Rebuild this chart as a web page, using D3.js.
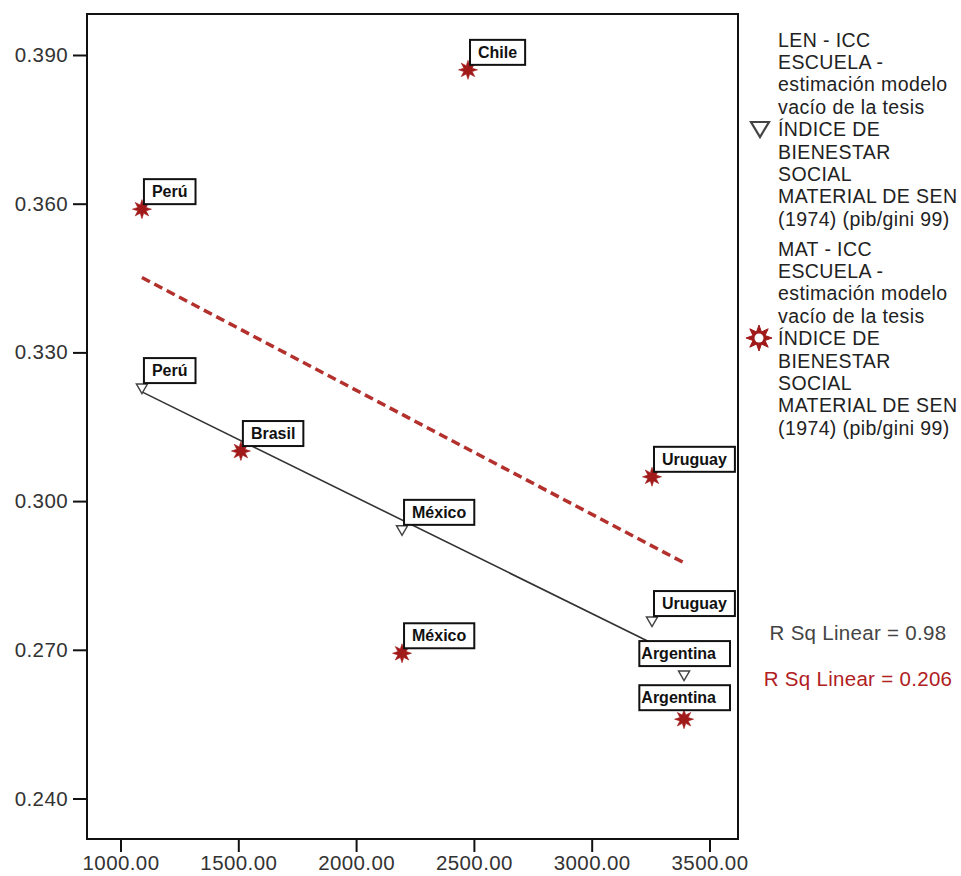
<!DOCTYPE html>
<html>
<head>
<meta charset="utf-8">
<script src="https://cdn.jsdelivr.net/npm/d3@7"></script>
<style>
  html, body { margin: 0; padding: 0; background: #fff; }
  svg { display: block; }
</style>
</head>
<body>
<svg id="chart" width="961" height="876"></svg>
<script>
// Countries and their PIB/Gini (1999) welfare index
const countries = ["Perú", "Brasil", "Chile", "México", "Uruguay", "Argentina"];
const pibGini   = [1091, 1511, 2475, 2195, 3256, 3392];
// School-level ICC estimates (empty model); null = not available
const lenIcc = [0.3228, null, null, 0.2942, 0.2758, 0.2649];
const matIcc = [0.3589, 0.3101, 0.3870, 0.2693, 0.3049, 0.2560];

const xTicks = [1000, 1500, 2000, 2500, 3000, 3500];
const yTicks = [0.240, 0.270, 0.300, 0.330, 0.360, 0.390];

const legendLen = ["LEN - ICC", "ESCUELA -", "estimación modelo", "vacío de la tesis",
  "ÍNDICE DE", "BIENESTAR", "SOCIAL", "MATERIAL DE SEN", "(1974) (pib/gini 99)"];
const legendMat = ["MAT - ICC", "ESCUELA -", "estimación modelo", "vacío de la tesis",
  "ÍNDICE DE", "BIENESTAR", "SOCIAL", "MATERIAL DE SEN", "(1974) (pib/gini 99)"];
const rSqLabels = ["R Sq Linear = 0.98", "R Sq Linear = 0.206"];

const RED = "#a11a1a";
const RED_LINE = "#b3302c";
const RED_TEXT = "#b0201e";
const FONT = "'Liberation Sans', Arial, sans-serif";

const svg = d3.select("#chart");
const plot = { left: 87, top: 14, right: 738, bottom: 839 };

const x = d3.scaleLinear().domain([857.8, 3621]).range([plot.left, plot.right]);
const y = d3.scaleLinear().domain([0.23183, 0.39827]).range([plot.bottom, plot.top]);

// Axes
const yAxis = d3.axisLeft(y).tickValues(yTicks).tickFormat(d3.format(".3f"))
  .tickSize(14).tickSizeOuter(0).tickPadding(5);
const xAxis = d3.axisBottom(x).tickValues(xTicks).tickFormat(d3.format(".2f"))
  .tickSize(13).tickSizeOuter(0).tickPadding(3);

const gy = svg.append("g").attr("transform", `translate(${plot.left},0)`).call(yAxis);
const gx = svg.append("g").attr("transform", `translate(0,${plot.bottom})`).call(xAxis);
[gx, gy].forEach(g => {
  g.select(".domain").remove();
  g.selectAll(".tick line").attr("stroke", "#111").attr("stroke-width", 2);
  g.selectAll(".tick text").attr("fill", "#333")
    .style("font-family", FONT).style("font-size", "20.5px").style("letter-spacing", "0.4px");
});

// Plot frame
svg.append("rect")
  .attr("x", plot.left).attr("y", plot.top)
  .attr("width", plot.right - plot.left).attr("height", plot.bottom - plot.top)
  .attr("fill", "none").attr("stroke", "#111").attr("stroke-width", 2);

// Least-squares fit over the available pairs
function fit(xs, ys) {
  const pts = xs.map((v, i) => [v, ys[i]]).filter(p => p[1] != null);
  const mx = d3.mean(pts, p => p[0]), my = d3.mean(pts, p => p[1]);
  const sxy = d3.sum(pts, p => (p[0] - mx) * (p[1] - my));
  const sxx = d3.sum(pts, p => (p[0] - mx) ** 2);
  const b = sxy / sxx, a = my - b * mx;
  const [x0, x1] = d3.extent(pts, p => p[0]);
  return [[x0, a + b * x0], [x1, a + b * x1]];
}
const line = d3.line().x(d => x(d[0])).y(d => y(d[1]));

svg.append("path").datum(fit(pibGini, matIcc)).attr("d", line)
  .attr("fill", "none").attr("stroke", RED_LINE).attr("stroke-width", 3.5)
  .attr("stroke-dasharray", "9,5");
svg.append("path").datum(fit(pibGini, lenIcc)).attr("d", line)
  .attr("fill", "none").attr("stroke", "#333").attr("stroke-width", 1.6);

// Marker shapes
function starPath(ro, ri, n = 8) {
  const pts = [];
  for (let i = 0; i < n * 2; i++) {
    const r = i % 2 === 0 ? ro : ri;
    const a = Math.PI * i / n - Math.PI / 2;
    pts.push([r * Math.cos(a), r * Math.sin(a)]);
  }
  return "M" + pts.map(p => p.join(",")).join("L") + "Z";
}
function triPath(hw, up, down) {
  return `M${-hw},${-up}L${hw},${-up}L0,${down}Z`;
}

const lenPts = countries.map((c, i) => ({ c, x: pibGini[i], v: lenIcc[i] })).filter(d => d.v != null);
const matPts = countries.map((c, i) => ({ c, x: pibGini[i], v: matIcc[i] }));

svg.append("g").selectAll("path").data(lenPts).join("path")
  .attr("transform", d => `translate(${x(d.x)},${y(d.v)})`)
  .attr("d", triPath(5.5, 4, 5.5))
  .attr("fill", "#fff").attr("stroke", "#444").attr("stroke-width", 1.5);

svg.append("g").selectAll("path").data(matPts).join("path")
  .attr("transform", d => `translate(${x(d.x)},${y(d.v)})`)
  .attr("d", starPath(9.5, 4.5))
  .attr("fill", RED).attr("stroke", RED).attr("stroke-width", 0.6);

// Point labels in boxes
const labelLayer = svg.append("g");
function addLabel(d) {
  const px = x(d.x), py = y(d.v);
  const g = labelLayer.append("g");
  const t = g.append("text").text(d.c)
    .style("font-family", FONT)
    .style("font-size", "16px").style("font-weight", "bold").attr("fill", "#111");
  const tw = t.node().getComputedTextLength();
  const w = tw + 16, h = 25;
  let left = px + 2, bottom = py - 5, tx = left + 8;
  if (left + w > plot.right) {
    left = plot.right - 8 - w; bottom = py - 9; tx = left + 2;
  }
  g.insert("rect", "text")
    .attr("x", left).attr("y", bottom - h).attr("width", w).attr("height", h)
    .attr("fill", "#fff").attr("stroke", "#111").attr("stroke-width", 2);
  t.attr("x", tx).attr("y", bottom - 7);
}
lenPts.forEach(addLabel);
matPts.forEach(addLabel);

// Legend
function legendBlock(lines, top) {
  svg.append("g").selectAll("text").data(lines).join("text")
    .attr("x", 778).attr("y", (d, i) => top + i * 22.4)
    .attr("fill", "#222")
    .style("font-family", FONT).style("font-size", "19.5px").style("letter-spacing", "0.4px")
    .text(d => d);
}
legendBlock(legendLen, 46.5);
legendBlock(legendMat, 255.5);
svg.append("path").attr("transform", "translate(760,129)")
  .attr("d", triPath(9, 7, 8))
  .attr("fill", "#fff").attr("stroke", "#444").attr("stroke-width", 2.2);
svg.append("path").attr("transform", "translate(759,338)")
  .attr("d", starPath(13, 6.5))
  .attr("fill", RED).attr("stroke", RED).attr("stroke-width", 1);
svg.append("circle").attr("cx", 759).attr("cy", 338).attr("r", 4.5).attr("fill", "#fff");

// R squared annotations
svg.append("text").attr("x", 858).attr("y", 640).attr("text-anchor", "middle")
  .attr("fill", "#444").style("font-family", FONT).style("font-size", "20.5px")
  .style("letter-spacing", "0.3px").text(rSqLabels[0]);
svg.append("text").attr("x", 858).attr("y", 686).attr("text-anchor", "middle")
  .attr("fill", RED_TEXT).style("font-family", FONT).style("font-size", "20.5px")
  .style("letter-spacing", "0.3px").text(rSqLabels[1]);
</script>
</body>
</html>
